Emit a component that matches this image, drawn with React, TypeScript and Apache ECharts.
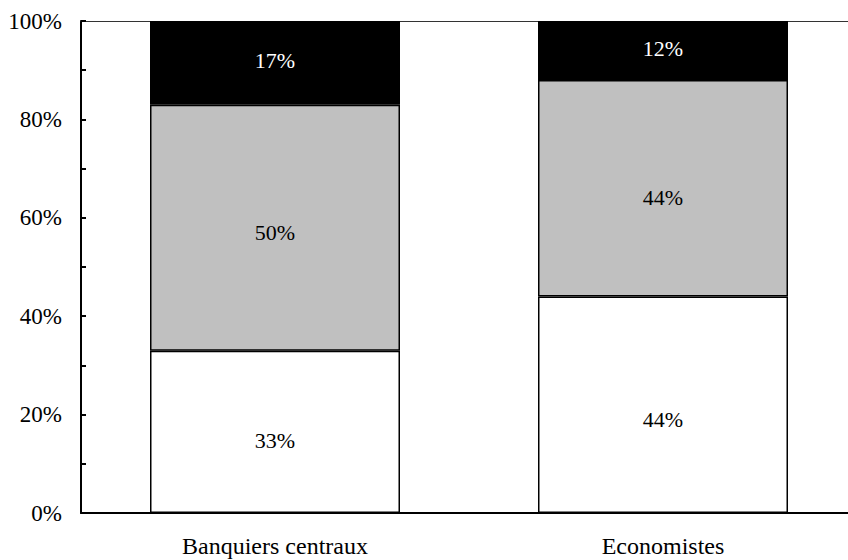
import React, { useEffect, useRef } from "react";
import * as echarts from "echarts";

const categories = ["Banquiers centraux", "Economistes"];
const lowerValues = [33, 44];
const middleValues = [50, 44];
const upperValues = [17, 12];
const yTicks = [0, 20, 40, 60, 80, 100];

// label vertical nudges (style only), per category
const lowerLabelDy = [9, 15];
const middleLabelDy = [5, 9];
const upperLabelDy = [-2, -2];

const FONT = "Liberation Serif";

export default function App() {
  const ref = useRef<HTMLDivElement>(null);
  useEffect(() => {
    if (!ref.current) return;
    const chart = echarts.init(ref.current, null, { renderer: "svg" });
    const labelCommon = {
      show: true,
      position: "inside",
      fontFamily: FONT,
      fontSize: 22,
      formatter: (p: any) => p.value + "%",
    };
    const itemCommon = { borderColor: "#000", borderWidth: 1.5 };
    const withOffsets = (vals: number[], dys: number[]) =>
      vals.map((v, i) => ({ value: v, label: { offset: [0, dys[i]] } }));
    chart.setOption({
      animation: false,
      backgroundColor: "#fff",
      grid: { left: 81, right: 3, top: 21, bottom: 47, containLabel: false },
      xAxis: [
        {
          type: "category",
          data: categories,
          axisLine: { show: true, lineStyle: { color: "#000", width: 2 } },
          axisTick: { show: false },
          axisLabel: { color: "#000", fontFamily: FONT, fontSize: 24, margin: 21 },
        },
        {
          type: "category",
          position: "top",
          data: categories,
          axisLine: { show: true, lineStyle: { color: "#333", width: 1 } },
          axisTick: { show: false },
          axisLabel: { show: false },
        },
      ],
      yAxis: {
        type: "value",
        min: yTicks[0],
        max: yTicks[yTicks.length - 1],
        interval: 20,
        axisLine: { show: true, lineStyle: { color: "#000", width: 2 } },
        axisTick: { show: true, inside: true, length: 5, lineStyle: { color: "#000", width: 2 } },
        minorTick: { show: true, splitNumber: 2, length: 5, lineStyle: { color: "#000", width: 2 } },
        splitLine: { show: false },
        axisLabel: {
          color: "#000",
          fontFamily: FONT,
          fontSize: 23,
          margin: 19,
          formatter: (v: number) => v + "%",
        },
      },
      series: [
        {
          type: "bar",
          stack: "s",
          data: withOffsets(lowerValues, lowerLabelDy),
          barWidth: 250,
          itemStyle: { color: "#fff", ...itemCommon },
          label: { ...labelCommon, color: "#000" },
        },
        {
          type: "bar",
          stack: "s",
          data: withOffsets(middleValues, middleLabelDy),
          barWidth: 250,
          itemStyle: { color: "#c0c0c0", ...itemCommon },
          label: { ...labelCommon, color: "#000" },
        },
        {
          type: "bar",
          stack: "s",
          data: withOffsets(upperValues, upperLabelDy),
          barWidth: 250,
          itemStyle: { color: "#000", ...itemCommon },
          label: { ...labelCommon, color: "#fff" },
        },
      ],
    });
    return () => chart.dispose();
  }, []);
  return (
    <div style={{ width: 848, height: 560, position: "absolute", left: 0, top: 0, overflow: "hidden" }}>
      <div ref={ref} style={{ width: 860, height: 560 }} />
    </div>
  );
}
